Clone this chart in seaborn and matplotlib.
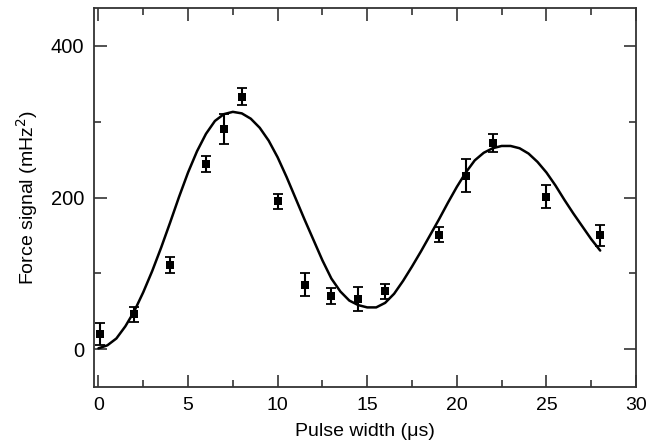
import numpy as np
import pandas as pd
import matplotlib
matplotlib.use("Agg")
import matplotlib.pyplot as plt
from matplotlib.ticker import MultipleLocator
import seaborn as sns

# measured points (pulse width in us, force signal in mHz^2, error bar half-height)
pulse = [0.1, 2, 4, 6, 7, 8, 10, 11.5, 13, 14.5, 16, 19, 20.5, 22, 25, 28]
signal = [20, 46, 111, 244, 290, 333, 195, 85, 70, 66, 76, 151, 229, 272, 201, 150]
err = [14, 10, 10, 11, 20, 11, 10, 15, 10, 16, 10, 10, 22, 12, 15, 14]

# fit curve, every 0.5 us
fit_t = [0, 0.5, 1, 1.5, 2, 2.5, 3, 3.5, 4, 4.5, 5, 5.5, 6, 6.5, 7, 7.5, 8, 8.5, 9, 9.5,
         10, 10.5, 11, 11.5, 12, 12.5, 13, 13.5, 14, 14.5, 15, 15.5, 16, 16.5, 17, 17.5,
         18, 18.5, 19, 19.5, 20, 20.5, 21, 21.5, 22, 22.5, 23, 23.5, 24, 24.5, 25, 25.5,
         26, 26.5, 27, 27.5, 28]
fit_v = [1, 5, 14, 30, 50, 75, 103, 134, 167, 201, 233, 261, 284, 301, 310, 313, 311, 304, 292, 275,
         253, 227, 199, 171, 144, 117, 93, 76, 64, 58, 55, 55, 61, 73, 90, 109,
         129, 150, 171, 193, 214, 233, 249, 259, 265, 268, 268, 265, 258, 247, 233, 216,
         197, 179, 162, 145, 130]

sns.set_style("ticks")
plt.rcParams['font.family'] = ['Liberation Sans', 'DejaVu Sans']
plt.rcParams['text.color'] = 'black'
plt.rcParams['axes.labelcolor'] = 'black'
plt.rcParams['xtick.color'] = 'black'
plt.rcParams['ytick.color'] = 'black'

pts = pd.DataFrame({"t": pulse, "s": signal, "e": err})
fit = pd.DataFrame({"t": fit_t, "v": fit_v})

fig = plt.figure(figsize=(6.66, 4.48), dpi=100)
ax = fig.add_axes([0.1411, 0.1362, 0.8139, 0.8459])

sns.lineplot(data=fit, x="t", y="v", color="black", linewidth=1.8, ax=ax)
ax.errorbar(pts["t"], pts["s"], yerr=pts["e"], fmt="none", ecolor="black",
            elinewidth=1.5, capsize=3.5, capthick=1.3, zorder=3)
sns.scatterplot(data=pts, x="t", y="s", marker="s", s=40, color="black",
                edgecolor="black", linewidth=0, ax=ax, zorder=4)

ax.set_xlim(-0.25, 30)
ax.set_ylim(-50, 450)
ax.xaxis.set_major_locator(MultipleLocator(5))
ax.xaxis.set_minor_locator(MultipleLocator(2.5))
ax.yaxis.set_major_locator(MultipleLocator(200))
ax.yaxis.set_minor_locator(MultipleLocator(100))
ax.tick_params(which="both", direction="in", top=True, right=True,
               labelsize=14, width=1.2, color="#333333")
ax.tick_params(axis="y", labelsize=14.5)
ax.tick_params(which="major", length=9, pad=7)
ax.tick_params(which="minor", length=5)
for sp in ax.spines.values():
    sp.set_visible(True)
    sp.set_linewidth(1.3)
    sp.set_color("#333333")

ax.set_xlabel("Pulse width (\u03bcs)", fontsize=14, labelpad=7)
ax.set_ylabel("Force signal (mHz$^2$)", fontsize=14, labelpad=8)

fig.savefig("out.png", dpi=100)
